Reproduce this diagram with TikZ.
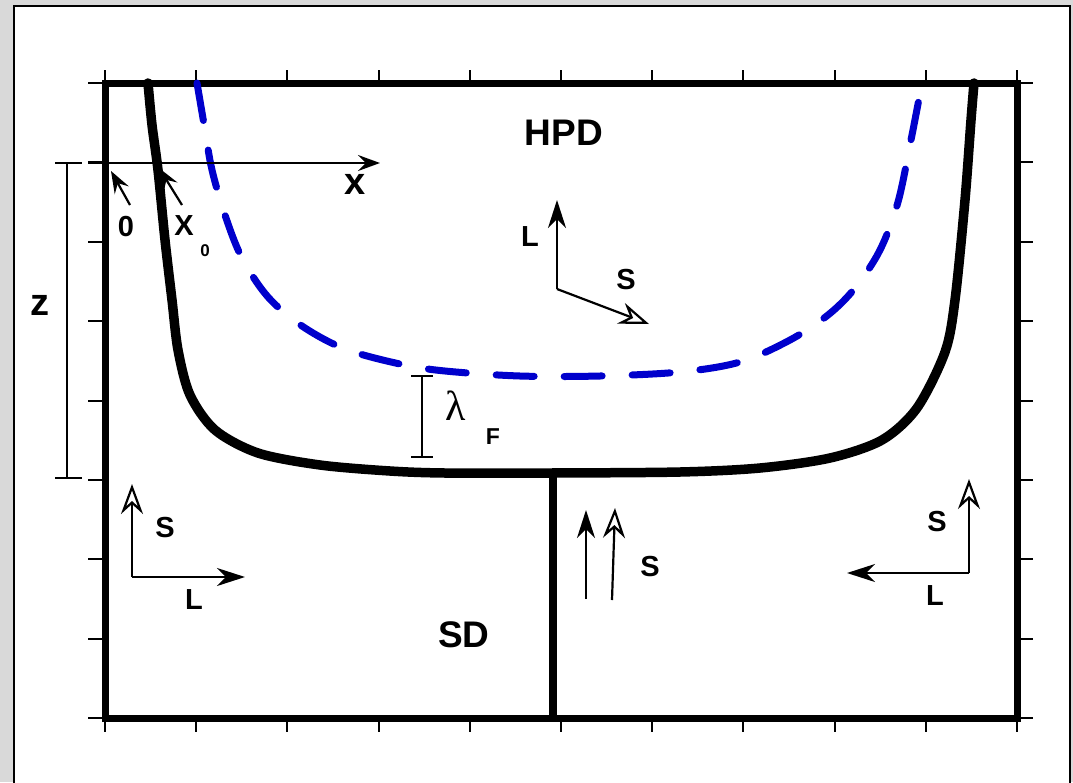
\documentclass[tikz,border=0pt]{standalone}
\usepackage{fontspec}
\setmainfont{Liberation Sans}
\newfontfamily\lamfont{Liberation Serif}
\usetikzlibrary{arrows.meta}
\begin{document}
\begin{tikzpicture}[x=1pt,y=-1pt,
  framel/.style={line width=7pt,line cap=rect},
  tickl/.style={line width=2pt},
  curvel/.style={line width=9.5pt,line cap=round,line join=round},
  bluel/.style={line width=7pt,line cap=round,color=blue!80!black,dash pattern=on 38pt off 30pt},
  arr/.style={line width=2.2pt,-{Stealth[length=28pt,width=18pt,inset=9pt]}},
  oarr/.style={line width=2.2pt,-{Stealth[open,length=30pt,width=22pt,inset=10pt]}},
  sarr/.style={line width=2.2pt,-{Stealth[length=22pt,width=16pt,inset=8pt]}},
  big/.style={font=\bfseries\fontsize{37}{40}\selectfont,inner sep=0pt},
  lab/.style={font=\bfseries\fontsize{29}{32}\selectfont,inner sep=0pt},
  lowlab/.style={font=\bfseries\fontsize{38}{40}\selectfont,inner sep=0pt},
  sub/.style={font=\bfseries\fontsize{17}{19}\selectfont,inner sep=0pt}]
\useasboundingbox (0,0) rectangle (1073,782);
% background
\fill[gray!30] (0,0) rectangle (1073,782);
\fill[white,draw=black,line width=2pt] (14,6) rectangle (1070,795);
% ticks
\foreach \i in {0,...,10}{
  \pgfmathsetmacro{\xx}{105+91.2*\i}
  \draw[tickl] (\xx,70) -- (\xx,83);
  \draw[tickl] (\xx,718) -- (\xx,732);
}
\foreach \i in {0,...,8}{
  \pgfmathsetmacro{\yy}{83+79.375*\i}
  \draw[tickl] (88,\yy) -- (105,\yy);
  \draw[tickl] (1017,\yy) -- (1033,\yy);
}
% frame
\draw[framel] (105,83) rectangle (1017,718);
% thick U curve
\draw[curvel] plot[smooth,tension=0.5] coordinates {(148,83) (152,125) (158,170) (165,240) (172,300) (178,350) (190,395) (215,430) (258,453) (320,465) (390,471) (445,473) (550,473) (680,472) (760,468) (830,458) (882,440) (917,408) (945,352) (955,300) (965,200) (971,120) (974,83)};
% stem
\coordinate (stemtop) at (553,473);
\coordinate (stembot) at (553,718);
\draw[line width=8pt] (stemtop) -- (stembot);
% blue dashed
\draw[bluel] plot[smooth,tension=0.55] coordinates {(197,83) (205,130) (212,170) (225,215) (242,258) (268,297) (302,326) (345,349) (400,364) (445,371) (520,376) (600,376) (680,372) (740,362) (790,340) (828,315) (855,288) (880,250) (898,202) (911,140) (922,83)};
% x axis
\coordinate (xa0) at (88,163);
\coordinate (xa1) at (380,163);
\draw[sarr] (xa0) -- (xa1);
\node[lowlab] (xl) at (355,184) {x};
% z bar
\coordinate (zt) at (67,163);
\coordinate (zb) at (67,478);
\draw[tickl] (zt) -- (zb);
\draw[tickl] (55,163) -- (82,163);
\draw[tickl] (55,478) -- (82,478);
\node[lowlab] (zl) at (40,305) {z};
% 0 and X0 arrows
\coordinate (o0) at (130,205);
\coordinate (o1) at (111,171);
\draw[sarr] (o0) -- (o1);
\node[lab] (ol) at (126,227) {0};
\coordinate (x00) at (182,205);
\coordinate (x01) at (159,168);
\draw[sarr] (x00) -- (x01);
\node[lab] (x0l) at (184,226) {X};
\node[sub] (x0s) at (205,251) {0};
% lambda_F
\coordinate (lt) at (422,376);
\coordinate (lb) at (422,457);
\draw[tickl] (lt) -- (lb);
\draw[tickl] (411,376) -- (433,376);
\draw[tickl] (411,457) -- (433,457);
\node[inner sep=0pt,font=\lamfont\fontsize{42}{44}\selectfont] (lam) at (456,406) {λ};
\node[inner sep=0pt,font=\bfseries\fontsize{23}{25}\selectfont] (fl) at (493,437) {F};
% labels
\node[big] (hpd) at (564,133) {HPD};
\node[big] (sd) at (464,635) {SD};
% centre L/S
\coordinate (c0) at (557,289);
\coordinate (cL) at (557,200);
\coordinate (cS) at (649,324);
\draw[arr] (c0) -- (cL);
\draw[oarr] (c0) -- (cS);
\node[lab] (cLl) at (530,237) {L};
\node[lab] (cSl) at (626,280) {S};
% lower left
\coordinate (a0) at (132,577);
\coordinate (aS) at (132,484);
\coordinate (aL) at (245,577);
\draw[oarr] (a0) -- (aS);
\draw[arr] (a0) -- (aL);
\node[lab] (aSl) at (165,528) {S};
\node[lab] (aLl) at (194,600) {L};
% middle
\coordinate (m0) at (586,599);
\coordinate (m1) at (586,510);
\coordinate (n0) at (612,600);
\coordinate (n1) at (615,508);
\draw[arr] (m0) -- (m1);
\draw[oarr] (n0) -- (n1);
\node[lab] (mSl) at (650,567) {S};
% right
\coordinate (r0) at (969,573);
\coordinate (rS) at (969,479);
\coordinate (rL) at (847,573);
\draw[oarr] (r0) -- (rS);
\draw[arr] (r0) -- (rL);
\node[lab] (rSl) at (937,522) {S};
\node[lab] (rLl) at (935,596) {L};
\end{tikzpicture}
\end{document}
